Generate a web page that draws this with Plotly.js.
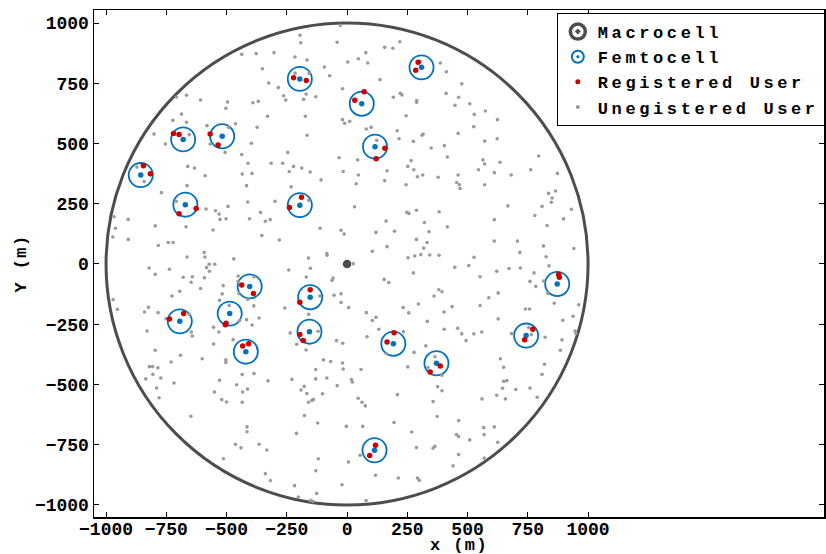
<!DOCTYPE html>
<html>
<head>
<meta charset="utf-8">
<script src="https://cdn.plot.ly/plotly-3.0.1.min.js"></script>
<style>
  html, body { margin: 0; padding: 0; background: #fff; }
  #chart { width: 826px; height: 554px; }
  .legendtext { letter-spacing: 3.6px; }
  .xtitle, .ytitle { letter-spacing: 1.4px; }
</style>
</head>
<body>
<div id="chart"></div>
<script>
// Cell layout (metres): one macrocell of radius 1000 m, femtocells of radius 50 m.
const cellRadius = 1000;
const femtoRadius = 50;
const macroX = [0];
const macroY = [0];

// Femtocell base stations
const femtoX = [-196, -680, -518, -856, -671, -196, 309, 61, 116, -404,
                -153, -487, -694, -156, -420, 192, 371, 872, 743, 114];
const femtoY = [768, 517, 530, 369, 246, 244, 816, 665, 487, -93,
                -138, -206, -238, -281, -364, -331, -412, -83, -297, -773];

// Users registered to a femtocell
const regX = [-222, -169, -720, -697, -568, -535, -845, -816, -626, -697, -189, -239,
              295, 285, 71, 32, 157, 121,
              -437, -388, -153, -196, -502, -505, -737, -678, -196, -182, -433, -408,
              195, 166, 387, 345, 878, 881, 771, 737, 118, 94];
const regY = [773, 761, 541, 537, 539, 494, 408, 374, 230, 208, 277, 234,
              837, 804, 715, 679, 480, 437,
              -87, -123, -107, -159, -246, -252, -228, -206, -293, -318, -340, -331,
              -285, -324, -423, -448, -44, -55, -271, -314, -752, -795];

// Unregistered users spread over the macrocell
const unregX = [
  -195, -192, -41, -28, -437, -377, -303, -216, -166, -351, -94, -72, -325, -285, -19, -216, -157, -170, -180, -130,
  -263, -254, -708, -666, -608, -496, -503, -391, -368, -330, -173, -19, -10, -687, -723, -666, -581, -463, -373, -492,
  -801, -754, -655, -568, -506, -397, -166, -246, -437, -33, -411, -315, -267, -222, -188, -240, -153, -16, -872, -661,
  -633, -842, -589, -435, -394, -664, -417, -232, -108, -770, -709, -412, -299, -159, -494, -585, -546, -531, -527, -502,
  -405, -359, -339, -319, -967, -908, -961, -796, -668, -556, -112, -25, -12, -972, -908, -354, -281, -783, -742, -722,
  -593, -590, -664, -470, -160, -84, -83,
  219, 156, 190, 78, 47, 86, 3, 387, 412, 303, 137, 476, 221, 228, 192, 289, 289, 411, 463, 448,
  509, 574, 528, 245, 624, 11, 80, 100, 208, 526, 461, 316, 311, 216, 275, 123, 623, 571, 349, 404,
  795, 416, 44, 266, 564, 571, 635, 252, 166, 277, 545, 47, 292, 314, 378, 461, 611, 681, 762, 873,
  156, 38, 245, 455, 466, 469, 571, 836, 865, 851, 848, 31, 667, 809, 931, 248, 257, 288, 382, 779,
  898, 162, 611, 321, 416, 830, 120, 197, 340, 288, 332, 611, 707, 166, 318, 815, 941, 105, 717, 253,
  281, 306, 343, 382, 527, 826,
  -821, -737, -796, -680, -642, -647, -592, -583, -572, -549, -571, -452, -386, -452, -514, -449, -518, -608, -694, -727,
  -529, -489, -387, -412, -242, -152, -169, -58, -62, -25, -54, -25, -113, -258, -159, -971, -953, -841, -824, -784,
  -751, -655, -646, -642, -830, -532, -554, -417, -394, -365, -446, -236, -120, -170, -209, -44, -18, -796, -691, -730,
  -601, -554, -503, -503, -473, -820, -807, -785, -835, -806, -773, -718, -529, -435, -386, -328, -413, -790, -780, -550,
  -458, -433, -520, -500, -435, -229, -130, -130, -84, -98, -68, -19, -16, -41, -102, -191, -178, -167, -160, -146,
  -140, -177, -122, -648, -415, -415, -210, -463, -440, -365, -333, -119, -513, -339, -318, -130, -218, -21, -126, -202,
  -142, -152,
  26, 447, 505, 621, 672, 719, 838, 776, 759, 783, 816, 275, 154, 173, 552, 627, 588, 361, 381, 394,
  7, 80, 105, 120, 233, 256, 296, 403, 436, 552, 627, 833, 860, 961, 938, 895, 333, 403, 459, 476,
  526, 559, 494, 682, 740, 757, 754, 765, 822, 892, 885, 946, 950, 132, 234, 83, 163, 278, 327, 252,
  58, 365, 393, 376, 394, 336, 636, 650, 819, 809, 18, 22, 650, 663, 645, 700, 759, 789, 209, 46,
  62, 76, 357, 560, 621, 657, 374, 463, 195, -3, 65, 567, 611, 268, 454, 463, 509, 569, 625, 288,
  357, 364, 54, 6, 463, 569, 440, 118, 213, 292, 300, 79
];
const unregY = [
  949, 918, 920, 990, 870, 873, 877, 859, 846, 810, 817, 781, 751, 732, 727, 792, 792, 705, 683, 694,
  698, 680, 693, 700, 680, 672, 646, 669, 675, 613, 613, 599, 584, 622, 596, 588, 574, 582, 567, 567,
  539, 498, 537, 498, 463, 501, 534, 463, 454, 441, 418, 418, 418, 405, 398, 384, 382, 384, 402, 405,
  398, 342, 366, 373, 376, 325, 325, 320, 349, 296, 260, 257, 260, 264, 239, 228, 221, 207, 185, 188,
  188, 214, 177, 184, 196, 185, 148, 158, 154, 141, 148, 140, 124, 112, 102, 118, 100, 77, 89, 89,
  48, 29, 29, 21, 25, 43, 36,
  922, 899, 895, 877, 852, 834, 838, 834, 798, 841, 765, 748, 708, 701, 692, 678, 671, 708, 692, 658,
  665, 635, 621, 615, 599, 592, 560, 567, 553, 570, 542, 539, 534, 520, 509, 513, 520, 510, 481, 491,
  448, 444, 432, 429, 432, 415, 422, 405, 387, 391, 391, 369, 362, 369, 360, 369, 379, 369, 391, 376,
  346, 333, 329, 338, 329, 313, 329, 293, 303, 274, 256, 237, 241, 239, 227, 214, 210, 223, 217, 201,
  187, 178, 184, 172, 154, 160, 131, 136, 134, 102, 89, 95, 95, 72, 66, 75, 64, 53, 48, 26,
  33, 39, 37, 36, 28, 30,
  -17, -22, -43, -55, -53, -76, -57, -15, -1, -1, -30, -50, -54, -72, -90, -123, -124, -102, -113, -133,
  -151, -172, -174, -147, -25, -18, -54, -58, -68, -124, -130, -160, -133, -183, -209, -148, -188, -199, -180, -202,
  -227, -209, -282, -299, -278, -282, -263, -231, -253, -224, -235, -286, -279, -357, -333, -318, -329, -358, -379, -407,
  -393, -332, -398, -409, -314, -426, -426, -431, -477, -458, -473, -494, -483, -459, -455, -485, -519, -515, -555, -531,
  -501, -531, -563, -573, -574, -479, -438, -477, -473, -398, -405, -411, -436, -505, -539, -523, -508, -538, -574, -566,
  -563, -629, -660, -632, -676, -696, -703, -748, -763, -748, -772, -808, -808, -870, -899, -858, -920, -916, -952, -967,
  -985, -982,
  1, -14, -6, -30, -19, -17, -8, -37, -72, -93, -71, -37, -64, -77, -53, -120, -140, -133, -107, -115,
  -181, -202, -235, -221, -181, -203, -166, -199, -177, -172, -228, -122, -163, -169, -217, -234, -238, -271, -267, -290,
  -290, -282, -318, -289, -187, -187, -264, -293, -304, -315, -358, -278, -288, -271, -281, -302, -372, -367, -340, -427,
  -438, -385, -462, -509, -526, -430, -393, -429, -416, -458, -480, -490, -487, -484, -516, -521, -515, -553, -542, -557,
  -574, -589, -571, -560, -545, -560, -633, -650, -658, -674, -674, -679, -676, -697, -708, -716, -730, -708, -740, -762,
  -765, -757, -794, -822, -791, -805, -838, -877, -888, -888, -898, -982
];

const xTicks = [-1000, -750, -500, -250, 0, 250, 500, 750, 1000];
const yTicks = [-1000, -750, -500, -250, 0, 250, 500, 750, 1000];

const macroColor = '#4d4d4d';
const femtoColor = '#0072bd';
const regColor = '#cc0000';
const unregColor = '#9a9a9a';

const monoBold = { family: 'Liberation Mono, DejaVu Sans Mono, monospace', weight: 'bold', color: '#000' };

const traces = [
  // legend entries for the two kinds of base station
  { type: 'scatter', mode: 'markers', name: 'Macrocell', x: [null], y: [null],
    marker: { symbol: 'circle-open-dot', size: 15, color: macroColor, line: { color: macroColor, width: 3.5 } },
    hoverinfo: 'skip' },
  { type: 'scatter', mode: 'markers', name: 'Femtocell', x: [null], y: [null],
    marker: { symbol: 'circle-open-dot', size: 12, color: femtoColor, line: { color: femtoColor, width: 2 } },
    hoverinfo: 'skip' },
  { type: 'scatter', mode: 'markers', name: 'Registered User', x: [null], y: [null],
    marker: { symbol: 'circle', size: 5, color: regColor }, hoverinfo: 'skip' },
  { type: 'scatter', mode: 'markers', name: 'Unegistered User', x: [null], y: [null],
    marker: { symbol: 'circle', size: 4, color: unregColor }, hoverinfo: 'skip' },

  // plotted points
  { type: 'scatter', mode: 'markers', x: unregX, y: unregY, showlegend: false,
    marker: { symbol: 'circle', size: 3.6, color: unregColor } },
  { type: 'scatter', mode: 'markers', x: femtoX, y: femtoY, showlegend: false,
    marker: { symbol: 'circle', size: 5.5, color: femtoColor } },
  { type: 'scatter', mode: 'markers', x: regX, y: regY, showlegend: false,
    marker: { symbol: 'circle', size: 5.5, color: regColor } },
  { type: 'scatter', mode: 'markers', x: macroX, y: macroY, showlegend: false,
    marker: { symbol: 'circle', size: 8.5, color: macroColor } }
];

// Coverage boundaries, in data units
const shapes = [{
  type: 'circle', xref: 'x', yref: 'y', layer: 'below',
  x0: macroX[0] - cellRadius, x1: macroX[0] + cellRadius,
  y0: macroY[0] - cellRadius, y1: macroY[0] + cellRadius,
  line: { color: macroColor, width: 3 }
}];
femtoX.forEach((fx, i) => {
  shapes.push({
    type: 'circle', xref: 'x', yref: 'y', layer: 'below',
    x0: fx - femtoRadius, x1: fx + femtoRadius,
    y0: femtoY[i] - femtoRadius, y1: femtoY[i] + femtoRadius,
    line: { color: femtoColor, width: 1.8 }
  });
});

const axisCommon = {
  ticks: 'inside', ticklen: 5, tickwidth: 1, tickcolor: '#000',
  showline: true, linecolor: '#000', linewidth: 1.5, mirror: 'ticks',
  showgrid: false, zeroline: false, automargin: false,
  tickfont: Object.assign({ size: 18 }, monoBold)
};

const layout = {
  width: 826, height: 554,
  margin: { l: 94, r: 2, t: 10, b: 37, autoexpand: false },
  paper_bgcolor: '#fff', plot_bgcolor: '#fff',
  xaxis: Object.assign({}, axisCommon, {
    range: [-1050, 1979], tickvals: xTicks,
    title: { text: 'x (m)', font: Object.assign({ size: 17 }, monoBold) }
  }),
  yaxis: Object.assign({}, axisCommon, {
    range: [-1050, 1054], tickvals: yTicks,
    title: { text: 'Y (m)', font: Object.assign({ size: 17 }, monoBold), standoff: 4 }
  }),
  shapes: shapes,
  showlegend: true,
  legend: {
    x: 0.634, y: 0.994, xanchor: 'left', yanchor: 'top',
    bgcolor: '#fff', bordercolor: '#000', borderwidth: 1,
    font: Object.assign({ size: 17 }, monoBold),
    itemsizing: 'trace', tracegroupgap: 0
  },
  hovermode: false
};

Plotly.newPlot('chart', traces, layout, { displayModeBar: false, staticPlot: true }).then(gd => {
  // sit the x tick labels a little closer to the axis line, clear of the axis title
  gd.querySelectorAll('.xtick text').forEach(t => {
    const tr = t.getAttribute('transform') || '';
    t.setAttribute('transform', 'translate(0,-5) ' + tr);
  });
  const xt = gd.querySelector('.xtitle');
  if (xt) {
    const tr = xt.getAttribute('transform') || '';
    xt.setAttribute('transform', 'translate(0,1) ' + tr);
  }
});
</script>
</body>
</html>
